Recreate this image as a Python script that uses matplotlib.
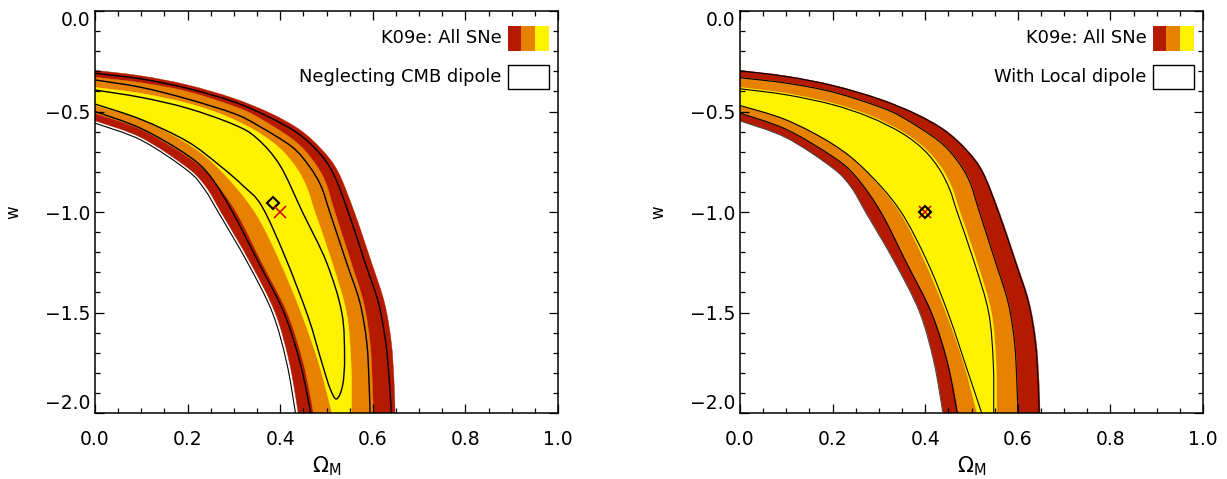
import numpy as np
import matplotlib
matplotlib.use("Agg")
import matplotlib.pyplot as plt
from matplotlib.path import Path
from matplotlib.patches import PathPatch, Rectangle
from matplotlib.ticker import MultipleLocator, FuncFormatter

# ---------------- data ----------------
# K09e: All SNe filled confidence regions (same in both panels)
RED_OUT_OM = [0.00, 0.10, 0.20, 0.30, 0.38, 0.443, 0.49, 0.525, 0.56, 0.597, 0.625, 0.640, 0.646, 0.648]
RED_OUT_W = [-0.295, -0.323, -0.368, -0.435, -0.51, -0.592, -0.69, -0.80, -1.00, -1.25, -1.45, -1.65, -1.85, -2.00]
ORANGE_OUT_OM = [0.00, 0.10, 0.20, 0.30, 0.35, 0.43, 0.47, 0.497, 0.518, 0.553, 0.58, 0.594, 0.599, 0.601]
ORANGE_OUT_W = [-0.33, -0.357, -0.401, -0.474, -0.526, -0.644, -0.742, -0.847, -1.00, -1.25, -1.45, -1.65, -1.85, -2.00]
YELLOW_OUT_OM = [0.00, 0.10, 0.20, 0.28, 0.35, 0.40, 0.435, 0.458, 0.475, 0.512, 0.543, 0.553, 0.554]
YELLOW_OUT_W = [-0.38, -0.41, -0.459, -0.52, -0.60, -0.685, -0.78, -0.88, -1.00, -1.25, -1.50, -1.75, -2.00]
YELLOW_IN_OM = [0.00, 0.10, 0.20, 0.27, 0.345, 0.40, 0.445, 0.483, 0.512]
YELLOW_IN_W = [-0.47, -0.54, -0.66, -0.79, -1.00, -1.25, -1.50, -1.75, -2.00]
ORANGE_IN_OM = [0.00, 0.10, 0.20, 0.25, 0.305, 0.36, 0.415, 0.45, 0.472]
ORANGE_IN_W = [-0.509, -0.59, -0.725, -0.825, -1.00, -1.25, -1.50, -1.75, -2.00]
RED_IN_OM = [0.00, 0.10, 0.20, 0.24, 0.272, 0.335, 0.389, 0.42, 0.439]
RED_IN_W = [-0.546, -0.63, -0.78, -0.876, -1.00, -1.25, -1.50, -1.75, -2.00]

# Left panel: "Neglecting CMB dipole" contour lines
NC3_UP_OM = [0.00, 0.10, 0.20, 0.30, 0.375, 0.437, 0.482, 0.515, 0.547, 0.583, 0.612, 0.628, 0.636, 0.640]
NC3_UP_W = [-0.31, -0.338, -0.385, -0.452, -0.527, -0.607, -0.70, -0.81, -1.00, -1.25, -1.45, -1.65, -1.85, -2.00]
NC2_UP_OM = [0.00, 0.10, 0.20, 0.30, 0.35, 0.425, 0.462, 0.488, 0.507, 0.543, 0.572, 0.587, 0.592, 0.594]
NC2_UP_W = [-0.343, -0.38, -0.438, -0.51, -0.567, -0.675, -0.77, -0.87, -1.00, -1.25, -1.45, -1.65, -1.85, -2.00]
NC1_OM = [0.00, 0.10, 0.20, 0.30, 0.35, 0.40, 0.448, 0.50, 0.533, 0.539, 0.535, 0.522,
          0.508, 0.49, 0.46, 0.41, 0.36, 0.32, 0.27, 0.20, 0.10, 0.00]
NC1_W = [-0.393, -0.43, -0.484, -0.565, -0.634, -0.77, -1.00, -1.25, -1.50, -1.72, -1.86, -1.93,
         -1.88, -1.75, -1.52, -1.22, -0.97, -0.87, -0.77, -0.65, -0.54, -0.463]
NC2_LOW_OM = [0.00, 0.10, 0.20, 0.25, 0.297, 0.353, 0.408, 0.443, 0.466]
NC2_LOW_W = [-0.50, -0.585, -0.718, -0.825, -1.00, -1.25, -1.50, -1.75, -2.00]
NC3_LOW_OM = [0.00, 0.10, 0.20, 0.237, 0.266, 0.329, 0.383, 0.414, 0.433]
NC3_LOW_W = [-0.558, -0.643, -0.794, -0.889, -1.00, -1.25, -1.50, -1.75, -2.00]
NC_BEST = (0.384, -0.955)

# Right panel: "With Local dipole" contour lines
LD3_UP_OM = [0.00, 0.10, 0.20, 0.30, 0.38, 0.442, 0.489, 0.524, 0.558, 0.595, 0.623, 0.638, 0.644, 0.646]
LD3_UP_W = [-0.298, -0.326, -0.371, -0.438, -0.513, -0.595, -0.693, -0.803, -1.00, -1.25, -1.45, -1.65, -1.85, -2.00]
LD2_UP_OM = [0.00, 0.10, 0.20, 0.30, 0.35, 0.429, 0.469, 0.496, 0.517, 0.552, 0.579, 0.593, 0.598, 0.600]
LD2_UP_W = [-0.332, -0.359, -0.403, -0.476, -0.528, -0.646, -0.744, -0.849, -1.00, -1.25, -1.45, -1.65, -1.85, -2.00]
LD1_UP_OM = [0.00, 0.10, 0.20, 0.28, 0.35, 0.398, 0.431, 0.453, 0.469, 0.506, 0.537, 0.547, 0.548]
LD1_UP_W = [-0.387, -0.417, -0.466, -0.528, -0.608, -0.693, -0.788, -0.888, -1.00, -1.25, -1.50, -1.75, -2.00]
LD1_LOW_OM = [0.00, 0.10, 0.20, 0.27, 0.345, 0.405, 0.452, 0.49, 0.522]
LD1_LOW_W = [-0.47, -0.542, -0.662, -0.79, -0.99, -1.25, -1.52, -1.78, -2.00]
LD2_LOW_OM = [0.00, 0.10, 0.20, 0.25, 0.304, 0.359, 0.413, 0.448, 0.469]
LD2_LOW_W = [-0.508, -0.589, -0.724, -0.823, -1.00, -1.25, -1.50, -1.75, -2.00]
LD3_LOW_OM = [0.00, 0.10, 0.20, 0.24, 0.271, 0.334, 0.388, 0.419, 0.438]
LD3_LOW_W = [-0.547, -0.631, -0.781, -0.877, -1.00, -1.25, -1.50, -1.75, -2.00]
LD_BEST = (0.40, -1.00)

K09E_BEST = (0.40, -1.00)

LEGEND_FILL = "K09e: All SNe"
LEGEND_LINES = ["Neglecting CMB dipole", "With Local dipole"]
XLABEL = r"$\Omega_{\mathrm{M}}$"
YLABEL = "w"

RED, ORANGE, YELLOW = "#B41A00", "#E68200", "#FFF200"

plt.rcParams["font.family"] = ["DejaVu Sans"]
plt.rcParams["mathtext.fontset"] = "dejavusans"


def bezier(xs, ys):
    P = np.column_stack([xs, ys]).astype(float)
    n = len(P)
    verts = [P[0]]
    codes = [Path.MOVETO]
    for i in range(n - 1):
        p0 = P[i - 1] if i > 0 else P[i]
        p1, p2 = P[i], P[i + 1]
        p3 = P[i + 2] if i + 2 < n else P[i + 1]
        verts += [p1 + (p2 - p0) / 6.0, p2 - (p3 - p1) / 6.0, p2]
        codes += [Path.CURVE4] * 3
    return verts, codes


def band(ax, ox, oy, ix, iy, color):
    v1, c1 = bezier(ox, oy)
    v2, c2 = bezier(ix[::-1], iy[::-1])
    c2 = [Path.LINETO] + c2[1:]
    verts = v1 + v2 + [v1[0]]
    codes = c1 + c2 + [Path.CLOSEPOLY]
    ax.add_patch(PathPatch(Path(verts, codes), facecolor=color, edgecolor=color,
                           lw=0.3, zorder=1))


def curve(ax, xs, ys, lw=1.0, color="k"):
    v, c = bezier(xs, ys)
    ax.add_patch(PathPatch(Path(v, c), fill=False, edgecolor=color, lw=lw,
                           zorder=3, capstyle="butt"))


fig = plt.figure(figsize=(12.27, 4.79), dpi=100)
W, H = 1227.0, 479.0
ax1 = fig.add_axes([95 / W, 66 / H, 463 / W, 402 / H])
ax2 = fig.add_axes([740 / W, 66 / H, 463 / W, 402 / H])

fmt = FuncFormatter(lambda v, p: f"{v + 0.0:.1f}".replace("-", "\u2212"))

for ax, label in [(ax1, LEGEND_LINES[0]), (ax2, LEGEND_LINES[1])]:
    band(ax, RED_OUT_OM, RED_OUT_W, RED_IN_OM, RED_IN_W, RED)
    band(ax, ORANGE_OUT_OM, ORANGE_OUT_W, ORANGE_IN_OM, ORANGE_IN_W, ORANGE)
    band(ax, YELLOW_OUT_OM, YELLOW_OUT_W, YELLOW_IN_OM, YELLOW_IN_W, YELLOW)

    ax.set_xlim(0, 1)
    ax.set_ylim(-2, 0)
    ax.xaxis.set_major_locator(MultipleLocator(0.2))
    ax.xaxis.set_minor_locator(MultipleLocator(0.05))
    ax.yaxis.set_major_locator(MultipleLocator(0.5))
    ax.yaxis.set_minor_locator(MultipleLocator(0.1))
    ax.xaxis.set_major_formatter(fmt)
    ax.yaxis.set_major_formatter(fmt)
    ax.tick_params(which="both", direction="in", top=True, right=True, width=0.9,
                   labelsize=13.5, color="k")
    ax.tick_params(which="major", length=6.2)
    ax.tick_params(which="minor", length=3.4)
    ax.tick_params(axis="x", which="major", pad=12.5)
    ax.tick_params(axis="y", which="major", pad=3.5)
    for s in ax.spines.values():
        s.set_linewidth(1.1)

    ax.set_xlabel(XLABEL, fontsize=15)
    ax.xaxis.set_label_coords(0.5, -0.104)
    ax.set_ylabel(YLABEL, fontsize=12)
    ax.yaxis.set_label_coords(-0.158, 0.5)

    # legend
    sw_x0, sw_x1 = 0.891, 0.980
    third = (sw_x1 - sw_x0) / 3.0
    for k, c in enumerate([RED, ORANGE, YELLOW]):
        ax.add_patch(Rectangle((sw_x0 + k * third, 0.901), third, 0.062,
                               transform=ax.transAxes, facecolor=c, edgecolor="none",
                               zorder=5))
    ax.add_patch(Rectangle((sw_x0, 0.805), sw_x1 - sw_x0, 0.061,
                           transform=ax.transAxes, facecolor="white", edgecolor="k",
                           lw=1.0, zorder=5))
    ax.text(0.878, 0.932, LEGEND_FILL, transform=ax.transAxes, ha="right",
            va="center", fontsize=12.9)
    ax.text(0.878, 0.836, label, transform=ax.transAxes, ha="right",
            va="center", fontsize=12.9)

    ticks = ax.yaxis.get_major_ticks()
    locs = ax.yaxis.get_majorticklocs()
    for t, loc in zip(ticks, locs):
        if abs(loc - 0.0) < 1e-9:
            t.label1.set_va("top")
        elif abs(loc + 2.0) < 1e-9:
            t.label1.set_va("bottom")

# left panel lines
curve(ax1, NC3_UP_OM, NC3_UP_W)
curve(ax1, NC2_UP_OM, NC2_UP_W)
curve(ax1, NC1_OM, NC1_W)
curve(ax1, NC2_LOW_OM, NC2_LOW_W)
curve(ax1, NC3_LOW_OM, NC3_LOW_W, lw=0.8)
ax1.plot([NC_BEST[0]], [NC_BEST[1]], marker="D", ms=6.3, mfc="none", mec="k",
         mew=1.5, zorder=6)
ax1.plot([K09E_BEST[0]], [K09E_BEST[1]], marker="x", ms=9, color="#CC1111",
         mew=1.2, zorder=6)

# right panel lines
curve(ax2, LD3_UP_OM, LD3_UP_W, lw=0.8)
curve(ax2, LD2_UP_OM, LD2_UP_W, lw=0.8)
curve(ax2, LD1_UP_OM, LD1_UP_W, lw=0.8)
curve(ax2, LD1_LOW_OM, LD1_LOW_W, lw=0.8)
curve(ax2, LD2_LOW_OM, LD2_LOW_W, lw=0.8)
curve(ax2, LD3_LOW_OM, LD3_LOW_W, lw=0.7, color="#444444")
ax2.plot([K09E_BEST[0]], [K09E_BEST[1]], marker="x", ms=9, color="#CC1111",
         mew=1.2, zorder=6)
ax2.plot([LD_BEST[0]], [LD_BEST[1]], marker="D", ms=6.3, mfc="none", mec="k",
         mew=1.5, zorder=7)

fig.savefig("out.png", dpi=100)
